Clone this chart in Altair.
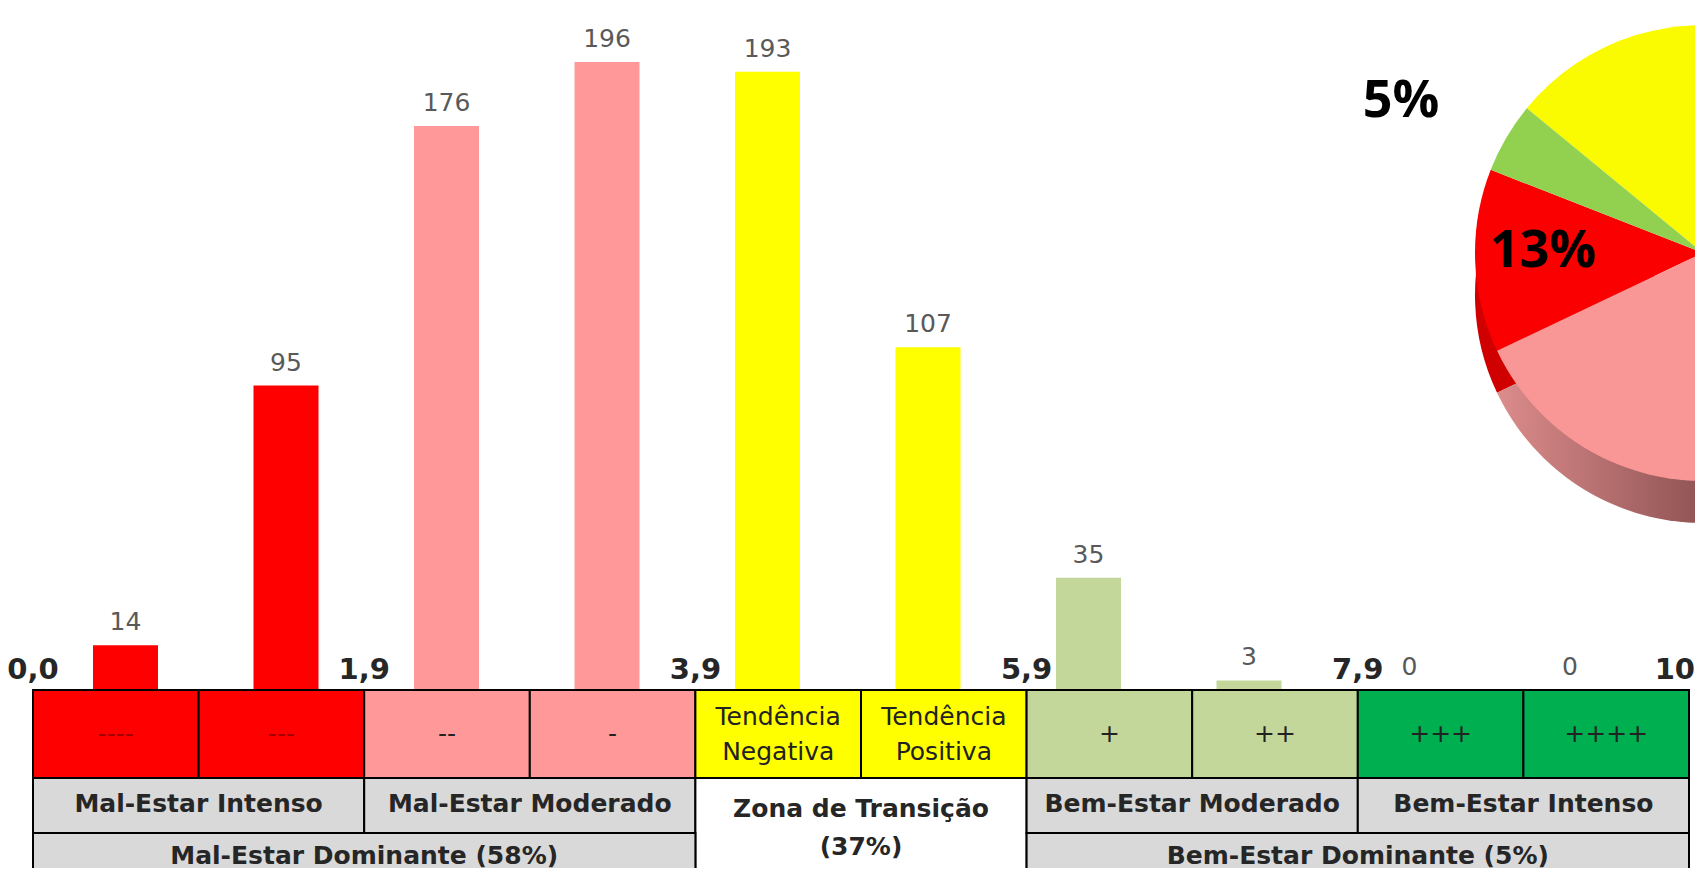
import math
import altair as alt
import pandas as pd

# ---------------- data ----------------
classes = ["----", "---", "--", "-", "Tendência\nNegativa", "Tendência\nPositiva",
           "+", "++", "+++", "++++"]
counts = [14, 95, 176, 196, 193, 107, 35, 3, 0, 0]
class_zone = ["Mal-Estar Intenso", "Mal-Estar Intenso",
              "Mal-Estar Moderado", "Mal-Estar Moderado",
              "Zona de Transição", "Zona de Transição",
              "Bem-Estar Moderado", "Bem-Estar Moderado",
              "Bem-Estar Intenso", "Bem-Estar Intenso"]
class_lo = [0, 1, 2, 3, 4, 5, 6, 7, 8, 9]
class_hi = [1, 2, 3, 4, 5, 6, 7, 8, 9, 10]

zones = ["Mal-Estar Intenso", "Mal-Estar Moderado", "Zona de Transição",
         "Bem-Estar Moderado", "Bem-Estar Intenso"]
zone_text = ["Mal-Estar Intenso", "Mal-Estar Moderado", "Zona de Transição\n(37%)",
             "Bem-Estar Moderado", "Bem-Estar Intenso"]
zone_lo = [0, 2, 4, 6, 8]
zone_hi = [2, 4, 6, 8, 10]
zone_rows = [1, 1, 2, 1, 1]  # table rows spanned below the class row

dominant_text = ["Mal-Estar Dominante (58%)", "Bem-Estar Dominante (5%)"]
dominant_lo = [0, 6]
dominant_hi = [4, 10]

bound_scores = [0, 2, 4, 6, 8, 10]
bound_labels = ["0,0", "1,9", "3,9", "5,9", "7,9", "10"]

pie_groups = ["Mal-Estar Intenso", "Mal-Estar Moderado", "Zona de Transição", "Bem-Estar"]
pie_pct = [13, 45, 37, 5]

# ---------------- styles / layout ----------------
zone_colors = ["#FF0000", "#FF9999", "#FFFF00", "#C4D79B", "#00B050"]
pie_colors = ["#FA0000", "#F99696", "#FAFA00", "#92D050"]
W, H = 1687, 860
CX, CY, R, SIDE = 1695, 245, 228, 42

df_cls = pd.DataFrame({"cls": classes, "count": counts, "zone": class_zone,
                       "lo": class_lo, "hi": class_hi})
df_zone = pd.DataFrame({"zone": zones, "text": zone_text, "lo": zone_lo,
                        "hi": zone_hi, "rows": zone_rows})
df_dom = pd.DataFrame({"text": dominant_text, "lo": dominant_lo, "hi": dominant_hi})
df_bound = pd.DataFrame({"score": bound_scores, "label": bound_labels})
df_pie = pd.DataFrame({"grp": pie_groups, "pct": pie_pct})

tx = alt.Scale(domain=[0, 10], range=[25, 1681], nice=False, zero=False)
ty = alt.Scale(domain=[0, 1, 2, 3], range=[682, 770, 825, 880], nice=False, zero=False)
bx = alt.Scale(type="band", domain=classes, range=[85, 1594.5], paddingInner=0.595, paddingOuter=0)
by = alt.Scale(domain=[0, 200], range=[682, 41.2], nice=False)
zone_scale = alt.Scale(domain=zones, range=zone_colors)
multi = "indexof(datum.{f}, '\\n') >= 0"

# ---------------- bars ----------------
bars = alt.Chart(df_cls).mark_bar().encode(
    x=alt.X("cls:N", scale=bx, sort=classes, axis=None),
    y=alt.Y("count:Q", scale=by, axis=None),
    color=alt.Color("zone:N", scale=zone_scale, legend=None),
)
bar_text = alt.Chart(df_cls).mark_text(
    font="DejaVu Sans", fontSize=25, color="#595959", dy=-15, baseline="alphabetic"
).encode(
    x=alt.X("cls:N", scale=bx, sort=classes, axis=None),
    y=alt.Y("count:Q", scale=by, axis=None),
    text="count:Q",
)

# ---------------- table ----------------
row1 = alt.Chart(df_cls).transform_calculate(r0="0", r1="1").mark_rect(
    stroke="black", strokeWidth=2
).encode(
    x=alt.X("lo:Q", scale=tx, axis=None), x2="hi:Q",
    y=alt.Y("r0:Q", scale=ty, axis=None), y2="r1:Q",
    color=alt.Color("zone:N", scale=zone_scale, legend=None),
)
row2 = alt.Chart(df_zone).transform_calculate(r0="1", r1="1 + datum.rows").mark_rect(
    stroke="black", strokeWidth=2
).encode(
    x=alt.X("lo:Q", scale=tx, axis=None), x2="hi:Q",
    y=alt.Y("r0:Q", scale=ty, axis=None), y2="r1:Q",
    fill=alt.condition("datum.zone == 'Zona de Transição'", alt.value("#FFFFFF"), alt.value("#D9D9D9")),
)
row3 = alt.Chart(df_dom).transform_calculate(r0="2", r1="3").mark_rect(
    stroke="black", strokeWidth=2, fill="#D9D9D9"
).encode(
    x=alt.X("lo:Q", scale=tx, axis=None), x2="hi:Q",
    y=alt.Y("r0:Q", scale=ty, axis=None), y2="r1:Q",
)


def row1_text(single, dy):
    pred = multi.format(f="cls")
    return alt.Chart(df_cls).transform_filter(
        ("!(" + pred + ")") if single else pred
    ).transform_calculate(
        mid="(datum.lo + datum.hi) / 2", ym="0.5"
    ).mark_text(
        font="DejaVu Sans", fontSize=25, lineBreak="\n", lineHeight=35,
        baseline="middle", align="center", dy=dy
    ).encode(
        x=alt.X("mid:Q", scale=tx, axis=None),
        y=alt.Y("ym:Q", scale=ty, axis=None),
        text="cls:N",
        color=alt.condition("datum.zone == 'Mal-Estar Intenso'", alt.value("#A30000"), alt.value("#222222")),
    )


def row2_text(single, dy):
    pred = multi.format(f="text")
    return alt.Chart(df_zone).transform_filter(
        ("!(" + pred + ")") if single else pred
    ).transform_calculate(
        mid="(datum.lo + datum.hi) / 2", ym="1 + datum.rows / 2"
    ).mark_text(
        font="DejaVu Sans", fontWeight="bold", fontSize=25, lineBreak="\n", lineHeight=38,
        baseline="middle", align="center", color="#262626", dy=dy
    ).encode(
        x=alt.X("mid:Q", scale=tx, axis=None),
        y=alt.Y("ym:Q", scale=ty, axis=None),
        text="text:N",
    )


row3_text = alt.Chart(df_dom).transform_calculate(
    mid="(datum.lo + datum.hi) / 2", ym="2.5"
).mark_text(
    font="DejaVu Sans", fontWeight="bold", fontSize=25,
    baseline="middle", align="center", color="#262626", dy=-5
).encode(
    x=alt.X("mid:Q", scale=tx, axis=None),
    y=alt.Y("ym:Q", scale=ty, axis=None),
    text="text:N",
)


def bounds(last):
    return alt.Chart(df_bound).transform_filter(
        "datum.score == 10" if last else "datum.score < 10"
    ).transform_calculate(ym="0").mark_text(
        font="DejaVu Sans", fontWeight="bold", fontSize=29, color="#262626",
        baseline="alphabetic", align="right" if last else "center",
        dy=-11, dx=6 if last else 0
    ).encode(
        x=alt.X("score:Q", scale=tx, axis=None),
        y=alt.Y("ym:Q", scale=ty, axis=None),
        text="label:N",
    )


# ---------------- pie ----------------
a0 = math.radians(291.4)
theta_scale = alt.Scale(domain=[0, 100], range=[a0, a0 + 2 * math.pi])
pie_base = alt.Chart(df_pie).transform_window(k="row_number()").transform_calculate(
    lbl="datum.pct + '%'"
).encode(
    theta=alt.Theta("pct:Q", stack=True, scale=theta_scale),
    order=alt.Order("k:Q", sort="descending"),
)
side_red = pie_base.mark_arc(radius=R, color="#D00000").encode(
    x=alt.value(CX), y=alt.value(CY + SIDE),
    opacity=alt.condition("datum.grp == 'Mal-Estar Intenso'", alt.value(1), alt.value(0)),
)
grad = alt.LinearGradient(
    gradient="linear", x1=0, x2=1, y1=0, y2=0,
    stops=[alt.GradientStop(offset=0, color="#DC8C8C"),
           alt.GradientStop(offset=0.47, color="#915454"),
           alt.GradientStop(offset=1, color="#6E3A3A")],
)
side_pink = pie_base.mark_arc(radius=R, fill=grad).encode(
    x=alt.value(CX), y=alt.value(CY + SIDE),
    opacity=alt.condition("datum.grp == 'Mal-Estar Moderado'", alt.value(1), alt.value(0)),
)
pie_top = pie_base.mark_arc(radius=R).encode(
    x=alt.value(CX), y=alt.value(CY),
    color=alt.Color("grp:N", scale=alt.Scale(domain=pie_groups, range=pie_colors), legend=None),
)
lbl_in = pie_base.mark_text(
    radius=160, font="Open Sans", fontWeight="bold", fontSize=52, color="black", baseline="middle"
).encode(
    x=alt.value(CX), y=alt.value(CY - 8), text="lbl:N",
    opacity=alt.condition("datum.grp == 'Mal-Estar Intenso'", alt.value(1), alt.value(0)),
)
lbl_out = pie_base.mark_text(
    radius=350, font="Open Sans", fontWeight="bold", fontSize=52, color="black", baseline="middle"
).encode(
    x=alt.value(CX), y=alt.value(CY + 25), text="lbl:N",
    opacity=alt.condition("datum.grp == 'Bem-Estar'", alt.value(1), alt.value(0)),
)

chart = alt.layer(
    bars, bar_text, row1, row2, row3,
    row1_text(True, 0), row1_text(False, -17.5),
    row2_text(True, -2), row2_text(False, -24),
    row3_text, bounds(False), bounds(True),
    side_red, side_pink, pie_top, lbl_in, lbl_out
).resolve_scale(
    x="independent", y="independent", color="independent", theta="independent"
).properties(
    width=W, height=H, padding=0, autosize=alt.AutoSizeParams(type="none")
).configure_view(stroke=None)

chart.save("out.html", embed_options={"renderer": "svg", "actions": False})
